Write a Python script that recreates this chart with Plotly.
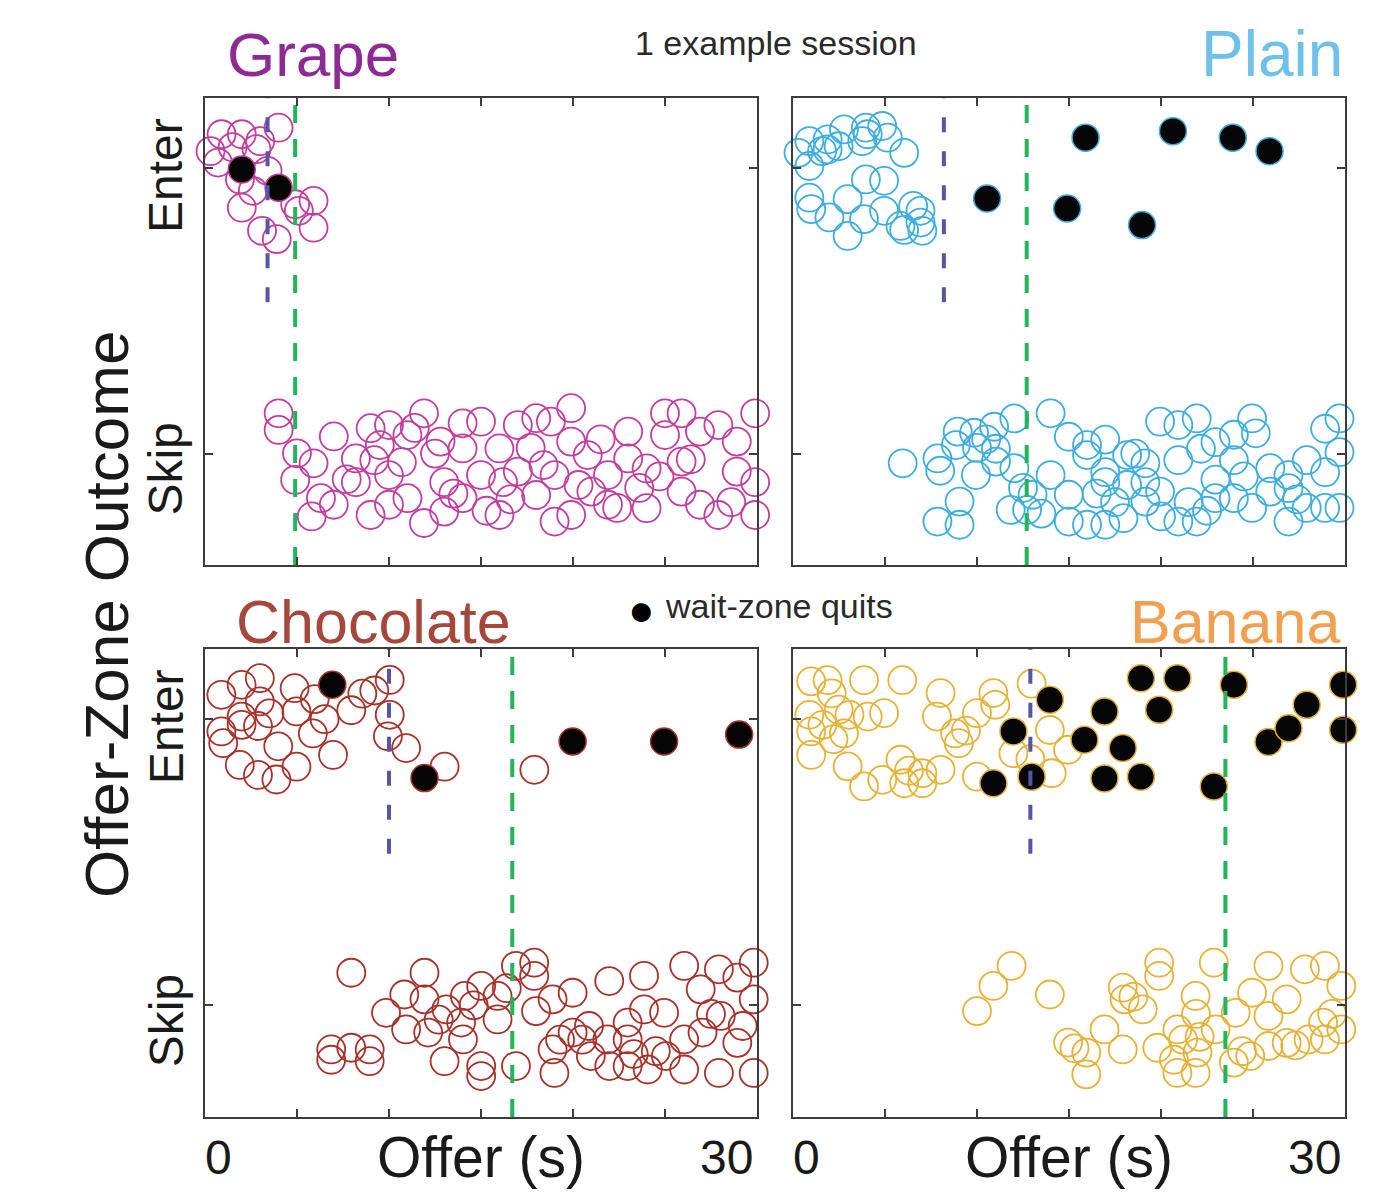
import plotly.graph_objects as go

# ---------------- data (offer in s, outcome: Enter=1 / Skip=0 with jitter) ----------------
flavors = ["Grape", "Plain", "Chocolate", "Banana"]
marker_colors = ["#c53d9f", "#3daee3", "#a8322a", "#e8b236"]
title_colors = ["#8e2a94", "#6dc1ea", "#a5473b", "#f2a04f"]

blue_threshold = [3.4, 8.2, 10.0, 12.9]      # dash-dot lines
green_threshold = [4.9, 12.7, 16.7, 23.5]    # dashed lines

grape_enter = [(0.9, 1.118), (2.0, 1.118), (3.0, 1.094), (4.0, 1.141), (0.3, 1.059), (1.5, 1.073),
               (2.8, 1.066), (0.7, 1.019), (1.9, 0.960), (2.0, 0.861), (3.1, 0.780), (3.9, 0.751),
               (4.9, 0.873), (5.9, 0.885), (5.9, 0.791), (5.1, 0.85), (3.4, 0.99), (2.6, 0.92)]
grape_quit = [(2.0, 0.995), (4.0, 0.931)]
grape_skip = [(4.0, 0.141), (4.0, 0.083), (5.0, 0.001), (4.9, -0.092), (5.9, -0.034), (5.8, -0.220),
              (7.0, 0.060), (7.0, -0.179), (8.2, -0.017), (8.2, -0.100), (9.0, 0.089), (9.0, -0.215),
              (9.2, -0.023), (10.0, 0.100), (10.0, -0.075), (10.0, -0.179), (11.0, 0.065), (11.0, -0.156),
              (11.9, 0.141), (11.9, -0.243), (12.8, 0.042), (13.0, -0.100), (13.0, -0.203), (14.0, 0.106),
              (14.0, 0.018), (14.0, -0.156), (15.0, 0.112), (15.0, -0.075), (16.0, 0.018), (16.0, -0.215),
              (16.2, -0.100), (17.0, 0.100), (17.0, -0.063), (18.0, 0.124), (18.0, -0.145), (18.8, 0.112),
              (19.0, -0.075), (19.0, -0.238), (19.9, 0.159), (19.9, 0.042), (19.9, -0.215), (20.8, -0.005),
              (21.0, -0.133), (21.9, -0.075), (21.9, -0.179), (23.0, 0.077), (23.0, -0.017), (24.0, -0.052),
              (24.0, -0.191), (25.0, 0.141), (25.0, 0.065), (25.9, 0.141), (25.9, -0.028), (25.9, -0.133),
              (26.9, 0.077), (26.9, -0.179), (27.9, 0.100), (27.9, -0.215), (28.9, 0.042), (28.9, -0.063),
              (29.9, 0.141), (29.9, -0.100), (29.9, -0.215), (6.3, -0.156), (10.7, -0.03), (12.5, 0.0),
              (15.3, -0.2), (17.7, 0.02), (21.5, 0.05), (23.6, -0.12), (28.6, -0.17), (7.7, -0.09),
              (9.5, 0.03), (13.5, -0.14), (18.4, -0.04), (20.3, -0.11), (22.4, -0.19), (26.4, -0.02),
              (24.7, -0.08), (11.4, 0.09), (16.6, -0.16)]

plain_enter = [(0.89, 1.094), (1.88, 1.100), (1.58, 1.059), (2.77, 1.135), (3.96, 1.141), (4.06, 1.118),
               (3.76, 1.094), (4.85, 1.147), (5.15, 1.106), (6.04, 1.053), (0.89, 1.007), (0.30, 1.053),
               (3.96, 0.960), (4.95, 0.955), (0.89, 0.896), (0.99, 0.856), (1.98, 0.827), (2.97, 0.891),
               (2.97, 0.762), (3.86, 0.821), (4.95, 0.85), (5.84, 0.797), (6.53, 0.867), (6.93, 0.85),
               (6.93, 0.809), (7.03, 0.78), (6.04, 0.783), (2.48, 1.076), (1.88, 1.065)]
plain_quit = [(15.9, 1.106), (20.65, 1.129), (23.9, 1.106), (25.9, 1.059), (10.55, 0.893),
              (14.9, 0.858), (18.97, 0.80)]
plain_skip = [(5.96, -0.034), (7.85, -0.017), (8.0, -0.06), (8.95, 0.077), (8.85, 0.030), (9.84, 0.073),
              (10.0, 0.02), (9.94, -0.075), (10.93, 0.094), (11.03, 0.017), (11.03, -0.028), (12.03, 0.123),
              (12.03, -0.051), (9.05, -0.168), (7.85, -0.238), (9.05, -0.249), (11.83, -0.197), (12.72, -0.197),
              (13.02, -0.144), (14.0, 0.141), (14.0, -0.075), (14.99, 0.059), (14.99, -0.144), (15.98, 0.030),
              (15.98, -0.005), (16.97, 0.049), (16.97, -0.065), (16.97, -0.1), (18.16, -0.005), (19.15, -0.034),
              (14.99, -0.238), (15.98, -0.249), (16.97, -0.249), (17.96, -0.226), (18.16, -0.110), (19.15, -0.168),
              (19.95, 0.112), (19.95, -0.133), (20.94, -0.023), (20.94, -0.238), (21.94, 0.123), (21.94, -0.238),
              (22.17, 0.017), (22.96, -0.091), (22.96, -0.156), (23.96, 0.066), (23.96, -0.023), (24.95, 0.123),
              (25.15, 0.071), (24.95, -0.19), (25.94, -0.051), (25.94, -0.133), (26.93, -0.075), (26.93, -0.238),
              (27.92, -0.023), (27.92, -0.19), (28.92, 0.087), (28.92, -0.065), (29.7, 0.123), (29.7, 0.005),
              (29.7, -0.19), (28.92, -0.19), (23.96, -0.156), (19.15, -0.1), (20.94, 0.100), (22.96, 0.040),
              (26.93, -0.121), (20.0, -0.22), (13.5, -0.21), (17.5, -0.17), (21.5, -0.17), (18.6, 0.0),
              (16.5, -0.14), (22.5, -0.2), (24.5, -0.08), (27.4, -0.16), (12.5, -0.12), (10.5, 0.05)]

chocolate_enter = [(0.89, 1.085), (1.99, 1.12), (2.98, 1.143), (2.98, 1.062), (1.99, 1.009), (0.89, 0.957),
                   (0.99, 0.916), (1.99, 0.98), (2.88, 0.976), (3.98, 0.905), (1.89, 0.840), (2.88, 0.805),
                   (3.88, 0.789), (4.97, 0.834), (4.87, 1.108), (4.97, 1.027), (5.86, 0.950), (5.96, 1.07),
                   (6.96, 0.875), (7.95, 1.031), (8.55, 1.089), (9.2, 1.10), (10.04, 1.137), (10.04, 1.015),
                   (9.94, 0.940), (10.93, 0.899), (13.02, 0.834), (17.9, 0.823), (3.5, 1.02), (6.5, 1.0)]
chocolate_quit = [(6.92, 1.12), (11.93, 0.794), (19.98, 0.922), (24.95, 0.922), (29.03, 0.946)]
chocolate_skip = [(7.95, 0.114), (6.86, -0.154), (6.86, -0.19), (7.95, -0.148), (8.95, -0.154), (8.95, -0.195),
                  (9.84, -0.026), (10.83, 0.038), (10.93, -0.084), (11.93, 0.114), (11.93, 0.021), (12.13, -0.095),
                  (13.12, -0.014), (13.02, -0.195), (13.92, -0.06), (14.02, -0.119), (14.12, 0.033), (15.01, 0.068),
                  (15.01, -0.212), (15.01, -0.247), (15.9, -0.049), (15.9, 0.033), (16.9, 0.138), (16.9, -0.212),
                  (17.89, 0.149), (17.89, 0.103), (17.99, -0.02), (18.89, 0.021), (18.99, -0.236), (18.89, -0.154),
                  (19.98, 0.044), (19.98, -0.095), (20.87, -0.072), (20.97, -0.177), (21.97, 0.085), (21.87, -0.119),
                  (21.97, -0.212), (22.97, -0.119), (22.97, -0.212), (23.86, 0.103), (23.86, -0.014), (24.06, -0.224),
                  (24.95, -0.026), (25.05, -0.177), (26.04, 0.138), (26.04, -0.224), (26.04, -0.119), (26.94, 0.056),
                  (27.04, -0.095), (27.93, 0.126), (27.93, -0.236), (28.03, -0.037), (28.93, 0.097), (28.93, -0.131),
                  (29.82, 0.149), (29.82, 0.021), (29.82, -0.236), (29.22, -0.072), (22.97, -0.06), (20.5, -0.12),
                  (24.5, -0.16), (19.3, -0.12), (16.4, 0.06), (12.7, -0.05), (27.5, -0.03), (23.3, -0.17),
                  (14.6, 0.0)]

banana_enter = [(0.99, 1.132), (1.88, 1.136), (2.1, 1.09), (3.86, 1.136), (5.94, 1.136), (8.02, 1.091),
                (10.89, 1.091), (10.99, 1.05), (12.97, 1.124), (0.89, 1.015), (0.99, 0.957), (0.99, 0.875),
                (2.48, 1.033), (3.07, 1.015), (2.77, 0.950), (4.06, 1.009), (4.95, 1.021), (2.97, 0.835),
                (3.86, 0.765), (4.85, 0.788), (5.84, 0.858), (6.04, 0.776), (7.03, 0.811), (7.03, 0.776),
                (8.02, 0.823), (7.82, 1.009), (8.81, 0.950), (9.01, 0.916), (10.0, 1.021), (10.0, 0.799),
                (11.98, 0.881), (13.96, 0.962), (14.06, 0.811), (14.95, 0.893), (2.2, 0.93), (6.3, 0.82),
                (9.4, 0.96), (12.9, 0.86), (1.6, 0.98)]
banana_quit = [(13.96, 1.068), (11.98, 0.957), (10.89, 0.776), (12.97, 0.799), (15.84, 0.928), (16.93, 1.027),
               (17.92, 0.899), (16.93, 0.793), (18.91, 0.799), (18.91, 1.143), (20.89, 1.143), (19.9, 1.033),
               (23.96, 1.12), (22.87, 0.765), (25.84, 0.92), (26.93, 0.968), (27.92, 1.05), (29.9, 1.12),
               (29.9, 0.963)]
banana_skip = [(10.0, -0.02), (10.89, 0.068), (11.88, 0.138), (13.96, 0.038), (14.95, -0.13), (15.94, -0.165),
               (15.94, -0.241), (16.93, -0.084), (17.92, -0.154), (17.92, 0.062), (18.02, 0.021), (19.01, -0.014),
               (19.9, 0.149), (19.9, 0.103), (19.8, -0.148), (20.89, -0.084), (20.89, -0.236), (21.88, 0.033),
               (21.9, -0.03), (21.98, -0.165), (21.88, -0.236), (22.87, 0.149), (22.97, -0.084), (24.06, -0.026),
               (23.96, -0.2), (24.95, 0.044), (24.85, -0.177), (25.84, 0.138), (25.84, -0.037), (25.84, -0.142),
               (26.83, 0.021), (26.83, -0.131), (27.82, 0.126), (28.02, -0.119), (28.91, 0.138), (28.81, -0.06),
               (28.91, -0.119), (29.8, 0.068), (29.8, -0.084), (21.2, -0.12), (22.1, -0.11), (15.3, -0.15),
               (18.5, 0.03), (24.4, -0.16), (27.3, -0.14), (29.3, -0.03), (20.7, -0.19)]

outcome_ticks = [0, 1]
outcome_labels = ["Skip", "Enter"]
offer_ticks = [0, 5, 10, 15, 20, 25, 30]
offer_range = [0, 30]
outcome_range = [-0.39, 1.245]
blue_line_bottom = 0.53

panels = [
    (grape_enter + grape_skip, grape_quit),
    (plain_enter + plain_skip, plain_quit),
    (chocolate_enter + chocolate_skip, chocolate_quit),
    (banana_enter + banana_skip, banana_quit),
]

# ---------------- layout helpers ----------------
W, H = 1400, 1197
def px(x):
    return x / W
def py(y):
    return 1 - y / H

FONT = "Liberation Sans, Arial, Helvetica, sans-serif"
AX = "#3c3c3c"

fig = go.Figure()

for i, (circles, quits) in enumerate(panels):
    xa = "x" if i == 0 else f"x{i+1}"
    ya = "y" if i == 0 else f"y{i+1}"
    fig.add_trace(go.Scatter(
        x=[p[0] for p in circles], y=[p[1] for p in circles], xaxis=xa, yaxis=ya,
        mode="markers", cliponaxis=False, showlegend=False, hoverinfo="skip",
        marker=dict(symbol="circle-open", size=28, color=marker_colors[i], line=dict(width=1.8, color=marker_colors[i])),
    ))
    fig.add_trace(go.Scatter(
        x=[p[0] for p in quits], y=[p[1] for p in quits], xaxis=xa, yaxis=ya,
        mode="markers", cliponaxis=False, showlegend=False, hoverinfo="skip",
        marker=dict(symbol="circle", size=27, color="#050505", line=dict(width=1.5, color=marker_colors[i])),
    ))
    fig.add_trace(go.Scatter(
        x=[blue_threshold[i], blue_threshold[i]], y=[blue_line_bottom, outcome_range[1]], xaxis=xa, yaxis=ya,
        mode="lines", showlegend=False, hoverinfo="skip",
        line=dict(color="#5557a6", width=4, dash="15px,19px"),
    ))
    fig.add_trace(go.Scatter(
        x=[green_threshold[i], green_threshold[i]], y=[outcome_range[0], outcome_range[1]], xaxis=xa, yaxis=ya,
        mode="lines", showlegend=False, hoverinfo="skip",
        line=dict(color="#22b55a", width=4, dash="18px,16px"),
    ))

xdoms = [[px(205), px(757)], [px(793), px(1345)]]
ydoms = [[py(565), py(98)], [py(1117), py(649)]]

axis_common = dict(showline=True, linecolor=AX, linewidth=2.2, mirror="ticks", ticks="inside",
                   ticklen=8, tickwidth=1.5, tickcolor=AX, showgrid=False, zeroline=False,
                   showticklabels=False)
layout = dict(
    width=W, height=H, margin=dict(l=0, r=0, t=0, b=0),
    paper_bgcolor="white", plot_bgcolor="white", showlegend=False,
    font=dict(family=FONT, color="#222222"),
)
for i in range(4):
    r, c = divmod(i, 2)
    xk = "xaxis" if i == 0 else f"xaxis{i+1}"
    yk = "yaxis" if i == 0 else f"yaxis{i+1}"
    xa = "x" if i == 0 else f"x{i+1}"
    ya = "y" if i == 0 else f"y{i+1}"
    layout[xk] = dict(axis_common, domain=xdoms[c], range=offer_range, tickvals=offer_ticks, anchor=ya)
    layout[yk] = dict(axis_common, domain=ydoms[r], range=outcome_range, tickvals=outcome_ticks, anchor=xa)

ann = []
# flavor titles
ann.append(dict(text=flavors[0], x=px(225), y=py(54), xanchor="left", yanchor="middle",
                font=dict(size=62, color=title_colors[0])))
ann.append(dict(text=flavors[1], x=px(1345), y=py(54), xanchor="right", yanchor="middle",
                font=dict(size=64, color=title_colors[1])))
ann.append(dict(text=flavors[2], x=px(234), y=py(622), xanchor="left", yanchor="middle",
                font=dict(size=61, color=title_colors[2])))
ann.append(dict(text=flavors[3], x=px(1342), y=py(622), xanchor="right", yanchor="middle",
                font=dict(size=61, color=title_colors[3])))
ann.append(dict(text="1 example session", x=px(776), y=py(43), xanchor="center", yanchor="middle",
                font=dict(size=34, color="#2a2a2a")))
ann.append(dict(text="\u25CF", x=px(641), y=py(609), xanchor="center", yanchor="middle",
                font=dict(size=44, color="#000000")))
ann.append(dict(text="wait-zone quits", x=px(663), y=py(606), xanchor="left", yanchor="middle",
                font=dict(size=34, color="#2a2a2a")))
ann.append(dict(text="Offer-Zone Outcome", x=px(106), y=py(615), xanchor="center", yanchor="middle",
                textangle=-90, font=dict(size=62, color="#1a1a1a")))
# y tick labels (left panels only)
for r, yref in enumerate(["y", "y3"]):
    for val, lab in zip(outcome_ticks, outcome_labels):
        ann.append(dict(text=lab, x=px(166), xref="paper", y=val, yref=yref, xanchor="center",
                        yanchor="middle", yshift=-16 if lab == "Skip" else -8, textangle=-90,
                        font=dict(size=48, color="#1a1a1a")))
# x tick labels and axis titles (bottom panels)
for xref in ["x3", "x4"]:
    ann.append(dict(text=str(offer_range[0]), x=offer_range[0], xref=xref, y=py(1157), yref="paper",
                    xanchor="left", yanchor="middle", xshift=-2, font=dict(size=48, color="#1a1a1a")))
    ann.append(dict(text=str(offer_range[1]), x=offer_range[1], xref=xref, y=py(1157), yref="paper",
                    xanchor="right", yanchor="middle", xshift=-2, font=dict(size=48, color="#1a1a1a")))
    ann.append(dict(text="Offer (s)", x=sum(offer_range) / 2, xref=xref, y=py(1157), yref="paper",
                    xanchor="center", yanchor="middle", font=dict(size=57, color="#1a1a1a")))

for a in ann:
    a.setdefault("xref", "paper")
    a.setdefault("yref", "paper")
    a["showarrow"] = False
layout["annotations"] = ann

fig.update_layout(**layout)
fig.write_html("out.html")
